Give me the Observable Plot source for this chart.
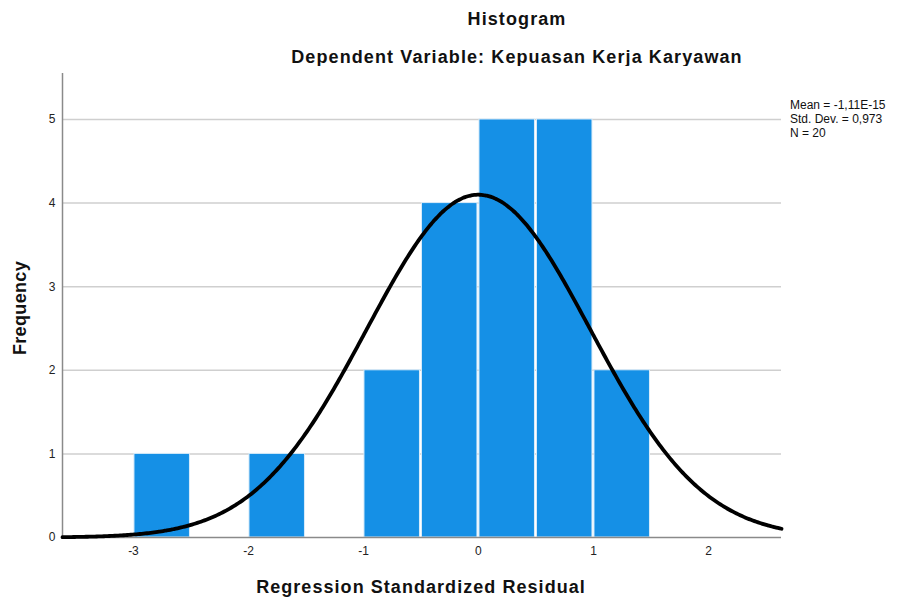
<!DOCTYPE html>
<html>
<head>
<meta charset="utf-8">
<script src="https://cdn.jsdelivr.net/npm/d3@7"></script>
<script src="https://cdn.jsdelivr.net/npm/@observablehq/plot@0.6"></script>
<style>
  html, body { margin: 0; padding: 0; background: #fff; }
  #wrap { position: relative; width: 899px; height: 601px; font-family: "Liberation Sans", Arial, sans-serif; color: #000; overflow: hidden; }
  .title { position: absolute; left: 0; width: 1034px; text-align: center; font-weight: bold; font-size: 18px; letter-spacing: 1.1px; white-space: nowrap; color: #111; }
  #chart { position: absolute; left: 0; top: 66px; }
  #xlabel { position: absolute; left: 0; width: 842px; top: 577px; text-align: center; font-weight: bold; font-size: 18px; letter-spacing: 1.05px; white-space: nowrap; color: #111; }
  #ylabel { position: absolute; left: 20px; top: 308px; transform: translate(-50%, -50%) rotate(-90deg); font-weight: bold; font-size: 18px; letter-spacing: 0.35px; white-space: nowrap; color: #111; }
  #stats { position: absolute; left: 790px; top: 98px; font-size: 12px; line-height: 14px; color: #111; white-space: nowrap; }
</style>
</head>
<body>
<div id="wrap">
  <div class="title" id="t1" style="top:9px">Histogram</div>
  <div class="title" id="t2" style="top:47px">Dependent Variable: Kepuasan Kerja Karyawan</div>
  <div id="chart"></div>
  <div id="xlabel">Regression Standardized Residual</div>
  <div id="ylabel">Frequency</div>
  <div id="stats"></div>
</div>
<script>
// Data
const binLower = [-3, -2, -1, -0.5, 0, 0.5, 1];
const binWidth = 0.5;
const counts = [1, 1, 2, 4, 5, 5, 2];
const xTicks = [-3, -2, -1, 0, 1, 2];
const yTicks = [0, 1, 2, 3, 4, 5];
const statMean = -1.11e-15;
const statSD = 0.973;
const statN = 20;
const statLabels = ["Mean = -1,11E-15", "Std. Dev. = 0,973", "N = 20"];
const xDomain = [-3.617, 2.635];
const yDomain = [0, 5.55];

const bars = binLower.map((lo, i) => ({x1: lo, x2: lo + binWidth, y: counts[i]}));

// Fitted normal curve from the reported mean, SD, N and bin width
const curve = d3.range(0, 401).map(i => {
  const x = xDomain[0] + (xDomain[1] - xDomain[0]) * i / 400;
  const z = (x - statMean) / statSD;
  return {x, y: statN * binWidth * Math.exp(-0.5 * z * z) / (statSD * Math.sqrt(2 * Math.PI))};
});

const chart = Plot.plot({
  width: 899,
  height: 535,
  marginTop: 7,
  marginBottom: 64,
  marginLeft: 62,
  marginRight: 118,
  style: {fontFamily: "'Liberation Sans', Arial, sans-serif", fontSize: "12px", color: "#222", background: "white"},
  x: {domain: xDomain, label: null},
  y: {domain: yDomain, label: null},
  marks: [
    Plot.gridY(yTicks.filter(d => d > 0), {stroke: "#cfcfcf", strokeOpacity: 1, strokeWidth: 1.5}),
    Plot.rectY(bars, {x1: "x1", x2: "x2", y1: 0, y2: "y", fill: "#1590e6", stroke: "#d9ecfa", strokeWidth: 1, insetLeft: 1, insetRight: 1}),
    Plot.ruleY([0], {stroke: "#8a8a8a", strokeWidth: 1.5}),
    Plot.ruleX([xDomain[0]], {stroke: "#8a8a8a", strokeWidth: 1.5}),
    Plot.line(curve, {x: "x", y: "y", stroke: "#000", strokeWidth: 3.8, curve: "natural"}),
    Plot.axisX(xTicks, {tickSize: 0, tickPadding: 9, label: null, tickFormat: d => d}),
    Plot.axisY(yTicks, {tickSize: 0, tickPadding: 7, label: null, tickFormat: d => d})
  ]
});
document.getElementById("chart").appendChild(chart);
document.getElementById("stats").innerHTML = statLabels.join("<br>");
</script>
</body>
</html>
